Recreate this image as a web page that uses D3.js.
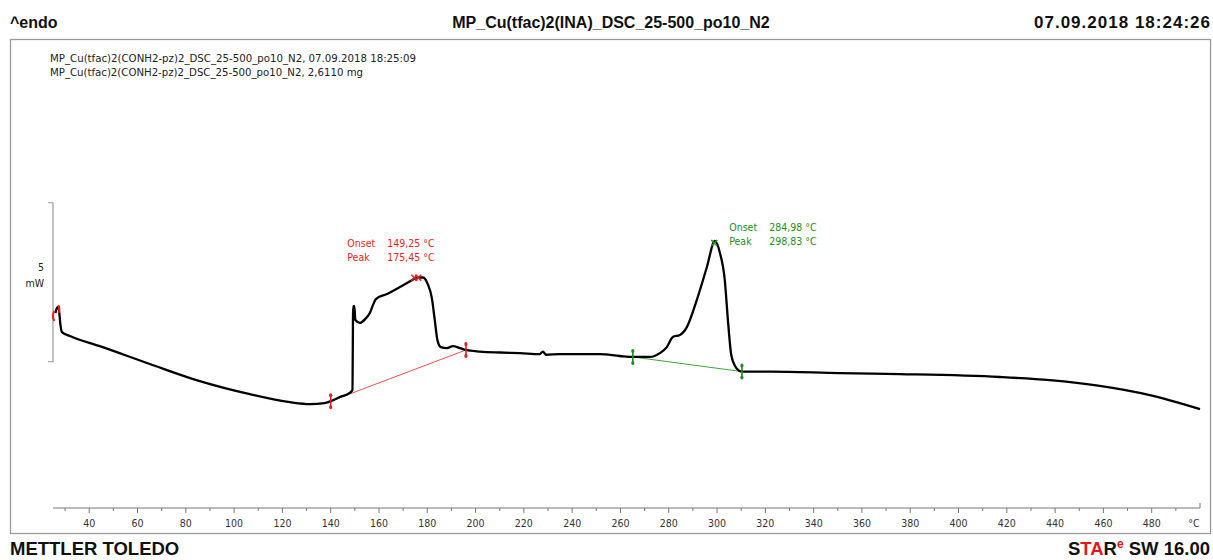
<!DOCTYPE html>
<html><head><meta charset="utf-8">
<script src="https://cdn.jsdelivr.net/npm/d3@7"></script>
<style>body{margin:0;background:#fff}svg{display:block}</style>
</head><body>
<svg id="chart" width="1213" height="560"></svg>
<script>
// ---- data ----
const temperature = [26.0,26.8,27.45,28.1,28.7,32.0,44.4,65.1,85.8,106.5,123.1,131.3,137.5,140.0,143.8,147.9,149.0,149.3,149.8,150.2,152.1,154.6,156.2,157.5,158.7,163.3,168.7,174.0,175.7,178.2,180.2,181.9,183.1,184.2,185.6,188.1,190.6,193.5,196.0,201.8,210.1,218.4,226.6,227.9,229.1,234.9,243.2,251.5,259.7,265.1,272.2,276.3,279.2,281.7,284.6,287.5,291.6,295.8,299.1,301.2,303.2,304.5,305.9,308.0,310.3,321.9,350.8,375.7,417.1,437.8,458.5,479.2,500.0];
const heatFlow = [1.53,1.72,1.63,1.15,0.93,0.81,0.49,-0.07,-0.61,-1.02,-1.27,-1.33,-1.30,-1.24,-1.11,-0.98,-0.89,1.75,1.75,1.31,1.22,1.37,1.53,1.78,1.97,2.13,2.35,2.58,2.65,2.65,2.44,2.00,1.31,0.68,0.46,0.43,0.49,0.43,0.37,0.32,0.29,0.27,0.24,0.32,0.22,0.24,0.24,0.24,0.18,0.15,0.15,0.27,0.46,0.78,0.84,1.09,1.94,2.98,3.80,3.42,2.57,1.31,0.21,-0.20,-0.31,-0.31,-0.36,-0.39,-0.48,-0.58,-0.76,-1.05,-1.49];
const xTickLabels = [40,60,80,100,120,140,160,180,200,220,240,260,280,300,320,340,360,380,400,420,440,460,480];
const xMinorTicks = [30,50,70,90,110,130,150,170,190,210,230,250,270,290,310,330,350,370,390,410,430,450,470,490];
const xDomain = [25, 500];
const yDomain = [-4.6, 10.15];
const scaleBarValues = [0, 5];
const redLimits = [140.0, 196.0];
const redPeak = 175.45;
const redLabels = ["Onset", "Peak"];
const redValues = ["149,25 °C", "175,45 °C"];
const greenLimits = [265.1, 310.3];
const greenPeak = 298.83;
const greenLabels = ["Onset", "Peak"];
const greenValues = ["284,98 °C", "298,83 °C"];
const titleText = "MP_Cu(tfac)2(INA)_DSC_25-500_po10_N2";
const dateText = "07.09.2018 18:24:26";
const legendLines = ["MP_Cu(tfac)2(CONH2-pz)2_DSC_25-500_po10_N2, 07.09.2018 18:25:09",
                     "MP_Cu(tfac)2(CONH2-pz)2_DSC_25-500_po10_N2, 2,6110 mg"];

// ---- drawing ----
const svg = d3.select("#chart");
const data = temperature.map((t,i)=>({t, v: heatFlow[i]}));
const x = d3.scaleLinear().domain(xDomain).range([53, 1200]);
const y = d3.scaleLinear().domain(yDomain).range([508, 39]);
const bis = d3.bisector(d=>d.t).left;
function hfAt(t){
  const i = Math.max(1, Math.min(data.length-1, bis(data, t)));
  const a = data[i-1], b = data[i];
  return a.v + (b.v-a.v)*(t-a.t)/(b.t-a.t);
}
const HF = "'Liberation Sans', Arial, Helvetica, sans-serif";
const SF = "'DejaVu Sans Condensed', 'DejaVu Sans', Tahoma, sans-serif";

// frame
svg.append("rect").attr("x",10.5).attr("y",39.5).attr("width",1200).attr("height",494)
  .attr("fill","none").attr("stroke","#9a9a9a").attr("stroke-width",1.3);

// header
svg.append("text").attr("x",10).attr("y",28).attr("font-family",HF).attr("font-weight","bold")
  .attr("font-size",16).attr("fill","#111").text("^endo");
svg.append("text").attr("x",611).attr("y",28).attr("text-anchor","middle").attr("font-family",HF)
  .attr("font-weight","bold").attr("font-size",16).attr("fill","#111").text(titleText);
svg.append("text").attr("x",1210).attr("y",28).attr("text-anchor","end").attr("font-family",HF)
  .attr("font-weight","bold").attr("font-size",17).attr("fill","#111")
  .attr("textLength",176).attr("lengthAdjust","spacing").text(dateText);

// legend
const legendWidths = [366, 313];
legendLines.forEach((s,i)=>{
  svg.append("text").attr("x",50).attr("y",62+i*14).attr("font-family",SF).attr("font-size",11)
    .attr("fill","#222").attr("textLength",legendWidths[i]).attr("lengthAdjust","spacingAndGlyphs").text(s);
});

// x axis
const ax = svg.append("g").attr("transform","translate(0,508)");
ax.append("line").attr("x1",x(xDomain[0])).attr("x2",x(xDomain[1])).attr("stroke","#777").attr("stroke-width",1);
ax.selectAll(".maj").data(xTickLabels).join("line").attr("x1",d=>x(d)).attr("x2",d=>x(d))
  .attr("y1",0).attr("y2",5).attr("stroke","#777");
ax.selectAll(".min").data(xMinorTicks).join("line").attr("x1",d=>x(d)).attr("x2",d=>x(d))
  .attr("y1",0).attr("y2",3).attr("stroke","#777");
ax.append("line").attr("x1",x(xDomain[1])).attr("x2",x(xDomain[1])).attr("y1",-5).attr("y2",0).attr("stroke","#777");
ax.selectAll(".lab").data(xTickLabels).join("text").attr("x",d=>x(d)).attr("y",19)
  .attr("text-anchor","middle").attr("font-family",SF).attr("font-size",10.5).attr("fill","#333").text(d=>d);
ax.append("text").attr("x",1194).attr("y",19).attr("text-anchor","middle").attr("font-family",SF)
  .attr("font-size",10.5).attr("fill","#333").text("°C");

// scale bar
const sb = svg.append("g").attr("stroke","#999").attr("fill","none");
sb.append("path").attr("d",`M48,${y(scaleBarValues[1])}H53V${y(scaleBarValues[0])}H48`).attr("stroke-width",1.2);
svg.append("text").attr("x",44).attr("y",271).attr("text-anchor","end").attr("font-family",SF).attr("font-size",10.5).attr("fill","#222").text("5");
svg.append("text").attr("x",44).attr("y",287).attr("text-anchor","end").attr("font-family",SF).attr("font-size",10.5).attr("fill","#222").text("mW");

// baselines
function baseline(lim, col){
  svg.append("line").attr("x1",x(lim[0])).attr("y1",y(hfAt(lim[0])))
    .attr("x2",x(lim[1])).attr("y2",y(hfAt(lim[1]))).attr("stroke",col).attr("stroke-width",1);
}
baseline(redLimits,"#f05050");
baseline(greenLimits,"#3aa83a");

// curve
const line = d3.line().x(d=>x(d.t)).y(d=>y(d.v)).curve(d3.curveMonotoneX);
svg.append("path").datum(data).attr("d",line).attr("fill","none").attr("stroke","#000")
  .attr("stroke-width",2.3).attr("stroke-linejoin","round");

// limit markers
function limitMarker(t, col){
  const cx = x(t), cy = y(hfAt(t));
  const g = svg.append("g").attr("stroke",col).attr("fill",col);
  g.append("line").attr("x1",cx).attr("x2",cx).attr("y1",cy-7).attr("y2",cy+7).attr("stroke-width",1.6);
  g.append("ellipse").attr("cx",cx).attr("cy",cy-6).attr("rx",1.6).attr("ry",2).attr("stroke","none");
  g.append("ellipse").attr("cx",cx).attr("cy",cy+6).attr("rx",1.6).attr("ry",2).attr("stroke","none");
}
redLimits.forEach(t=>limitMarker(t,"#e61e1e"));
greenLimits.forEach(t=>limitMarker(t,"#1e8c1e"));

// peak markers
function cross(cx, cy, col){
  svg.append("path").attr("d",`M${cx-3},${cy-3}L${cx+3},${cy+3}M${cx-3},${cy+3}L${cx+3},${cy-3}`)
    .attr("stroke",col).attr("stroke-width",1.5).attr("fill","none");
}
cross(x(redPeak)-2, y(hfAt(redPeak)), "#e61e1e");
cross(x(redPeak)+2, y(hfAt(redPeak)), "#e61e1e");
cross(x(greenPeak), y(hfAt(greenPeak)), "#1e8c1e");

// start markers
const s0 = data[0];
svg.append("path").attr("d",`M${x(s0.t)-1},${y(s0.v)-2}q-3,5 0,10`).attr("stroke","#e61e1e").attr("stroke-width",2).attr("fill","none");
svg.append("path").attr("d",`M${x(s0.t)+3},${y(s0.v)-8}q2,4 0,8`).attr("stroke","#e61e1e").attr("stroke-width",2).attr("fill","none");

// annotations
function annot(px, py, labels, values, col){
  labels.forEach((l,i)=>{
    svg.append("text").attr("x",px).attr("y",py+i*14).attr("font-family",SF).attr("font-size",10.5).attr("fill",col).text(l);
    svg.append("text").attr("x",px+40).attr("y",py+i*14).attr("font-family",SF).attr("font-size",10.5).attr("fill",col).text(values[i]);
  });
}
annot(x(redPeak)-69, 247, redLabels, redValues, "#ee1c1c");
annot(x(greenPeak)+15, 231, greenLabels, greenValues, "#1e8c1e");

// footer
svg.append("text").attr("x",10).attr("y",555).attr("font-family",HF).attr("font-weight","bold")
  .attr("font-size",18.5).attr("fill","#111").text("METTLER TOLEDO");
const ft = svg.append("text").attr("x",1210).attr("y",555).attr("text-anchor","end").attr("font-family",HF)
  .attr("font-weight","bold").attr("font-size",18.5).attr("fill","#111");
ft.append("tspan").text("S");
ft.append("tspan").attr("fill","#e8141e").text("TA");
ft.append("tspan").text("R");
ft.append("tspan").attr("fill","#e8141e").attr("font-size",12).attr("dy",-7).text("e");
ft.append("tspan").attr("dy",7).text(" SW 16.00");
</script>
</body></html>
